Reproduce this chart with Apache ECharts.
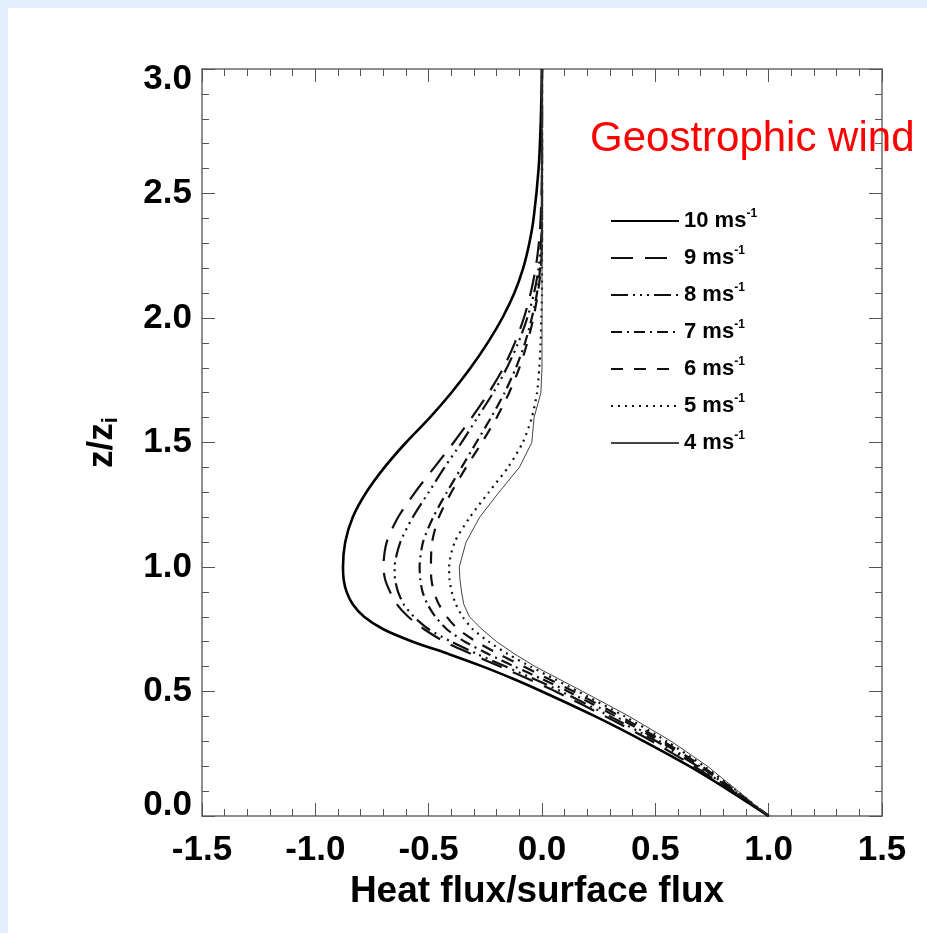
<!DOCTYPE html>
<html>
<head>
<meta charset="utf-8">
<script src="https://cdn.jsdelivr.net/npm/echarts@6/dist/echarts.min.js"></script>
<style>
  html, body { margin: 0; padding: 0; background: #e3effb; }
  #panel { position: absolute; left: 8px; top: 8px; width: 919px; height: 925px; background: #ffffff; }
  #main { position: absolute; left: 0; top: 0; width: 927px; height: 933px; }
</style>
</head>
<body>
<div id="panel"></div>
<div id="main"></div>
<script>
// Normalised height z/zi at which each profile is sampled
const heights = [0, 0.1, 0.2, 0.3, 0.4, 0.5, 0.55, 0.6, 0.65, 0.7, 0.75, 0.8, 0.85, 0.9, 0.95, 1.0,
                 1.1, 1.2, 1.3, 1.4, 1.5, 1.6, 1.7, 1.8, 1.9, 2.0, 2.1, 2.2, 2.3, 2.4, 2.6, 2.8, 3.0];

// Heat flux / surface flux for each geostrophic wind speed
const flux10 = [1.0, 0.83, 0.65, 0.45, 0.235, 0.0, -0.125, -0.26, -0.41, -0.57, -0.70, -0.785, -0.835, -0.862, -0.875, -0.878,
                -0.868, -0.835, -0.775, -0.695, -0.60, -0.495, -0.40, -0.315, -0.24, -0.175, -0.122, -0.083, -0.056, -0.037, -0.015, -0.005, 0];
const flux9  = [1.0, 0.84, 0.67, 0.485, 0.28, 0.06, -0.06, -0.185, -0.31, -0.43, -0.52, -0.59, -0.64, -0.67, -0.692, -0.70,
                -0.685, -0.635, -0.56, -0.475, -0.39, -0.31, -0.235, -0.17, -0.12, -0.08, -0.05, -0.028, -0.014, -0.006, 0, 0, 0];
const flux8  = [1.0, 0.845, 0.685, 0.505, 0.30, 0.085, -0.035, -0.16, -0.285, -0.40, -0.50, -0.565, -0.61, -0.635, -0.648, -0.65,
                -0.625, -0.57, -0.50, -0.43, -0.355, -0.285, -0.215, -0.155, -0.105, -0.065, -0.035, -0.015, -0.005, 0, 0, 0, 0];
const flux7  = [1.0, 0.85, 0.695, 0.52, 0.325, 0.115, 0.0, -0.12, -0.235, -0.34, -0.42, -0.47, -0.505, -0.527, -0.537, -0.54,
                -0.525, -0.48, -0.42, -0.355, -0.29, -0.225, -0.165, -0.115, -0.075, -0.045, -0.022, -0.008, 0, 0, 0, 0, 0];
const flux6  = [1.0, 0.855, 0.705, 0.535, 0.345, 0.14, 0.03, -0.08, -0.19, -0.29, -0.37, -0.42, -0.455, -0.477, -0.488, -0.49,
                -0.485, -0.455, -0.40, -0.335, -0.265, -0.20, -0.145, -0.10, -0.065, -0.038, -0.018, -0.005, 0, 0, 0, 0, 0];
const flux5  = [1.0, 0.86, 0.715, 0.55, 0.365, 0.16, 0.055, -0.05, -0.15, -0.235, -0.305, -0.35, -0.38, -0.398, -0.408, -0.41,
                -0.385, -0.318, -0.235, -0.15, -0.085, -0.045, -0.022, -0.012, -0.006, -0.003, 0, 0, 0, 0, 0, 0, 0];
const flux4  = [1.0, 0.865, 0.73, 0.57, 0.385, 0.18, 0.075, -0.03, -0.12, -0.20, -0.265, -0.32, -0.345, -0.355, -0.362, -0.365,
                -0.335, -0.275, -0.19, -0.10, -0.045, -0.035, -0.005, 0, 0, 0, 0, 0, 0, 0, 0, 0, 0];

const windSpeeds = ['10', '9', '8', '7', '6', '5', '4'];
const profiles = [flux10, flux9, flux8, flux7, flux6, flux5, flux4];
const xTickValues = [-1.5, -1.0, -0.5, 0.0, 0.5, 1.0, 1.5];
const yTickValues = [0.0, 0.5, 1.0, 1.5, 2.0, 2.5, 3.0];

// Line appearance per wind speed
const lineStyles = [
  { width: 2.6, type: 'solid', color: '#000000', smooth: 0.25 },
  { width: 2.2, type: [22, 12], color: '#111111', smooth: 0.25 },
  { width: 2.2, type: [17, 5, 2, 5, 2, 5, 2, 5], color: '#111111', smooth: 0.25 },
  { width: 2.2, type: [11, 5, 2, 5], color: '#111111', smooth: 0.25 },
  { width: 2.2, type: [12, 11], color: '#111111', smooth: 0.25 },
  { width: 2.2, type: [2, 5], color: '#111111', smooth: 0.25 },
  { width: 1, type: 'solid', color: '#444444', smooth: false }
];

const FONT = '"Liberation Sans", Arial, Helvetica, sans-serif';
const axisLine = { show: true, onZero: false, lineStyle: { color: '#6a6a6a', width: 1.5 } };
const tickStyle = { color: '#555555', width: 1 };

function frameAxis(extra) {
  return Object.assign({
    type: 'value',
    axisLine: axisLine,
    axisTick: { show: true, inside: true, length: 13, lineStyle: tickStyle },
    minorTick: { show: true, splitNumber: 5, length: 7, lineStyle: tickStyle },
    splitLine: { show: false },
    minorSplitLine: { show: false }
  }, extra);
}

const tickFont = { fontSize: 35, fontWeight: 'bold', color: '#000000', fontFamily: FONT };

const chart = echarts.init(document.getElementById('main'), null, { renderer: 'canvas' });

chart.setOption({
  animation: false,
  backgroundColor: 'transparent',
  title: {
    text: 'Geostrophic wind',
    left: 585, top: 113,
    z: 10,
    textStyle: { color: '#ff0000', fontSize: 42, fontWeight: 'normal', fontFamily: FONT }
  },
  grid: { left: 202, top: 69, width: 680, height: 747 },
  legend: {
    orient: 'vertical',
    left: 610, top: 208,
    padding: 0,
    itemWidth: 68, itemHeight: 14, itemGap: 13,
    itemStyle: { opacity: 0 },
    data: windSpeeds,
    formatter: name => '{v|' + name + ' ms}{s|-1}',
    textStyle: {
      color: '#000000', fontFamily: FONT, fontWeight: 'bold', fontSize: 22,
      rich: {
        v: { fontSize: 22, lineHeight: 26, fontWeight: 'bold', fontFamily: FONT, color: '#000' },
        s: { fontSize: 12, lineHeight: 14, verticalAlign: 'top', fontWeight: 'bold', fontFamily: FONT, color: '#000' }
      }
    }
  },
  xAxis: [
    frameAxis({
      position: 'bottom', min: xTickValues[0], max: xTickValues[xTickValues.length - 1], interval: 0.5,
      axisLabel: Object.assign({ margin: 17, formatter: v => v.toFixed(1) }, tickFont),
      name: 'Heat flux/surface flux', nameLocation: 'middle', nameGap: 56,
      nameTextStyle: { fontSize: 37, fontWeight: 'bold', color: '#000000', fontFamily: FONT, padding: [0, 10, 0, 0] }
    }),
    frameAxis({ position: 'top', min: -1.5, max: 1.5, interval: 0.5, axisLabel: { show: false } })
  ],
  yAxis: [
    frameAxis({
      position: 'left', min: yTickValues[0], max: yTickValues[yTickValues.length - 1], interval: 0.5,
      axisLabel: Object.assign({
        margin: 10,
        // end labels are kept inside the axis span
        formatter: v => v === 3 ? '{top|3.0}' : (v === 0 ? '{bot|0.0}' : v.toFixed(1)),
        rich: {
          top: Object.assign({ padding: [21, 0, 0, 0] }, tickFont),
          bot: Object.assign({ padding: [0, 0, 22, 0] }, tickFont)
        }
      }, tickFont),
      name: '{a|z/z}{b|i}', nameLocation: 'middle', nameGap: 80,
      nameTextStyle: {
        rich: {
          a: { fontSize: 35, lineHeight: 40, fontWeight: 'bold', fontFamily: FONT, color: '#000' },
          b: { fontSize: 22, lineHeight: 22, verticalAlign: 'bottom', fontWeight: 'bold', fontFamily: FONT, color: '#000' }
        }
      }
    }),
    frameAxis({ position: 'right', min: 0, max: 3, interval: 0.5, axisLabel: { show: false } })
  ],
  series: profiles.map((vals, k) => ({
    name: windSpeeds[k],
    type: 'line',
    xAxisIndex: 0, yAxisIndex: 0,
    symbol: 'none',
    smooth: lineStyles[k].smooth,
    clip: true,
    lineStyle: { color: lineStyles[k].color, width: lineStyles[k].width, type: lineStyles[k].type },
    itemStyle: { color: lineStyles[k].color },
    data: heights.map((z, i) => [vals[i], z])
  }))
});
</script>
</body>
</html>
